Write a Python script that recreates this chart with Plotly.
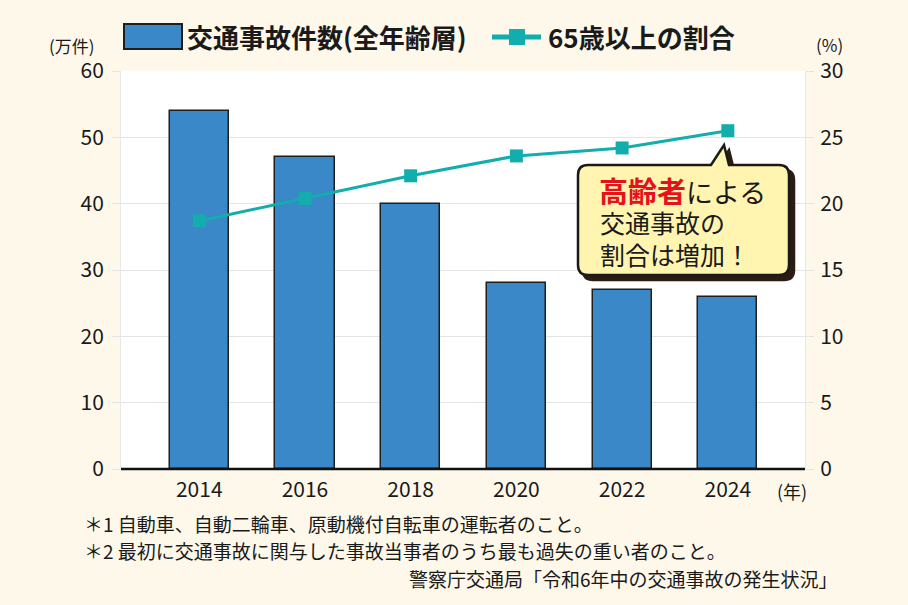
import plotly.graph_objects as go

years = ["2014", "2016", "2018", "2020", "2022", "2024"]
accidents = [54, 47, 40, 28, 27, 26]          # 万件
elderly_share = [18.7, 20.4, 22.1, 23.6, 24.2, 25.5]  # %

W, H = 908, 605
ML, MR, MT, MB = 121, 103, 71, 136
PW, PH = W - ML - MR, H - MT - MB

def px(x):
    return (x - ML) / PW

def py(y):
    return (H - MB - y) / PH

FONT = "Noto Sans CJK JP"
BG = "#fdf8ea"
BAR = "#3a88c8"
LINE = "#13adad"
INK = "#1a1a1a"

fig = go.Figure()
fig.add_trace(go.Bar(
    x=years, y=accidents, width=0.56, name="交通事故件数(全年齢層)",
    marker=dict(color=BAR, line=dict(color="#1e1e1e", width=1.5)),
    showlegend=False, yaxis="y"))
fig.add_trace(go.Scatter(
    x=years, y=elderly_share, mode="lines+markers", name="65歳以上の割合",
    line=dict(color=LINE, width=3),
    marker=dict(symbol="square", size=13, color=LINE),
    showlegend=False, yaxis="y2"))

shapes = []
annotations = []

# baseline
shapes.append(dict(type="line", xref="paper", yref="paper", x0=0, x1=1, y0=0, y1=0,
                   line=dict(color="#111", width=2.5), layer="above"))

# legend
shapes.append(dict(type="rect", xref="paper", yref="paper",
                   x0=px(124), x1=px(182), y0=py(49), y1=py(24),
                   fillcolor=BAR, line=dict(color="#1e1e1e", width=2)))
annotations.append(dict(xref="paper", yref="paper", x=px(185), y=py(37), xanchor="left", yanchor="middle",
                        text="<b>交通事故件数(全年齢層)</b>", showarrow=False,
                        font=dict(family=FONT, size=26, color=INK)))
shapes.append(dict(type="line", xref="paper", yref="paper",
                   x0=px(492), x1=px(541), y0=py(37), y1=py(37),
                   line=dict(color=LINE, width=5)))
shapes.append(dict(type="rect", xref="paper", yref="paper",
                   x0=px(509), x1=px(525), y0=py(45), y1=py(29),
                   fillcolor=LINE, line=dict(width=0)))
annotations.append(dict(xref="paper", yref="paper", x=px(546), y=py(37), xanchor="left", yanchor="middle",
                        text="<b>65歳以上の割合</b>", showarrow=False,
                        font=dict(family=FONT, size=26, color=INK)))

# axis unit labels
annotations.append(dict(xref="paper", yref="paper", x=px(97), y=py(45), xanchor="right", yanchor="middle",
                        text="(万件)", showarrow=False, font=dict(family=FONT, size=17, color=INK)))
annotations.append(dict(xref="paper", yref="paper", x=px(814), y=py(44), xanchor="left", yanchor="middle",
                        text="(%)", showarrow=False, font=dict(family=FONT, size=17, color=INK)))
annotations.append(dict(xref="paper", yref="paper", x=px(775), y=py(491), xanchor="left", yanchor="middle",
                        text="(年)", showarrow=False, font=dict(family=FONT, size=18, color=INK)))

# callout bubble
def bubble_path(dx=0, dy=0):
    L, R, T, B, r = 578 + dx, 789 + dx, 165 + dy, 275 + dy, 10
    tl, tr, tip = 711 + dx, 729 + dx, (724 + dx, 145 + dy)
    pts = [
        f"M {px(L + r)},{py(T)}",
        f"L {px(tl)},{py(T)}",
        f"L {px(tip[0])},{py(tip[1])}",
        f"L {px(tr)},{py(T)}",
        f"L {px(R - r)},{py(T)}",
        f"Q {px(R)},{py(T)} {px(R)},{py(T + r)}",
        f"L {px(R)},{py(B - r)}",
        f"Q {px(R)},{py(B)} {px(R - r)},{py(B)}",
        f"L {px(L + r)},{py(B)}",
        f"Q {px(L)},{py(B)} {px(L)},{py(B - r)}",
        f"L {px(L)},{py(T + r)}",
        f"Q {px(L)},{py(T)} {px(L + r)},{py(T)}",
        "Z",
    ]
    return " ".join(pts)

shapes.append(dict(type="path", xref="paper", yref="paper", path=bubble_path(5, 5),
                   fillcolor="#2b1d14", line=dict(color="#2b1d14", width=2.5), layer="above"))
shapes.append(dict(type="path", xref="paper", yref="paper", path=bubble_path(),
                   fillcolor="#fff5b0", line=dict(color=INK, width=2.5), layer="above"))

annotations.append(dict(xref="paper", yref="paper", x=px(597), y=py(190), xanchor="left", yanchor="middle",
                        showarrow=False, height=30, valign="middle",
                        text="<span style='color:#e5121b;font-size:29px'><b>高齢者</b></span>による",
                        font=dict(family=FONT, size=27, color=INK)))
annotations.append(dict(xref="paper", yref="paper", x=px(598), y=py(222), xanchor="left", yanchor="middle",
                        showarrow=False, text="交通事故の", height=30, valign="middle",
                        font=dict(family=FONT, size=25, color=INK)))
annotations.append(dict(xref="paper", yref="paper", x=px(598), y=py(254), xanchor="left", yanchor="middle",
                        showarrow=False, text="割合は増加！", height=30, valign="middle",
                        font=dict(family=FONT, size=25, color=INK)))

# footnotes
annotations.append(dict(xref="paper", yref="paper", x=px(82), y=py(523), xanchor="left", yanchor="middle",
                        text="＊1 自動車、自動二輪車、原動機付自転車の運転者のこと。", showarrow=False,
                        font=dict(family=FONT, size=19, color=INK)))
annotations.append(dict(xref="paper", yref="paper", x=px(82), y=py(550), xanchor="left", yanchor="middle",
                        text="＊2 最初に交通事故に関与した事故当事者のうち最も過失の重い者のこと。", showarrow=False,
                        font=dict(family=FONT, size=19, color=INK)))
annotations.append(dict(xref="paper", yref="paper", x=px(840), y=py(578), xanchor="right", yanchor="middle",
                        text="警察庁交通局「令和6年中の交通事故の発生状況」", showarrow=False,
                        font=dict(family=FONT, size=19, color=INK)))

fig.update_layout(
    width=W, height=H,
    margin=dict(l=ML, r=MR, t=MT, b=MB),
    paper_bgcolor=BG, plot_bgcolor="white",
    font=dict(family=FONT, size=20, color=INK),
    xaxis=dict(type="category", range=[-0.74, 5.73], showgrid=False, ticks="",
               tickfont=dict(size=21), showline=False, zeroline=False, ticklabelstandoff=6),
    yaxis=dict(range=[0, 60], dtick=10, showgrid=True, gridcolor="#e4e4e4", gridwidth=1.2,
               ticks="outside", ticklen=8, tickcolor="#e4e4e4", showline=True, linecolor="#e8e8e8",
               zeroline=False, tickfont=dict(size=21), ticklabelstandoff=4),
    yaxis2=dict(range=[0, 30], dtick=5, overlaying="y", side="right", showgrid=False,
                ticks="outside", ticklen=8, tickcolor="#e4e4e4", showline=True, linecolor="#e8e8e8",
                zeroline=False, tickfont=dict(size=21), ticklabelstandoff=2),
    shapes=shapes, annotations=annotations,
    showlegend=False, bargap=0,
)

fig.write_html("out.html")
